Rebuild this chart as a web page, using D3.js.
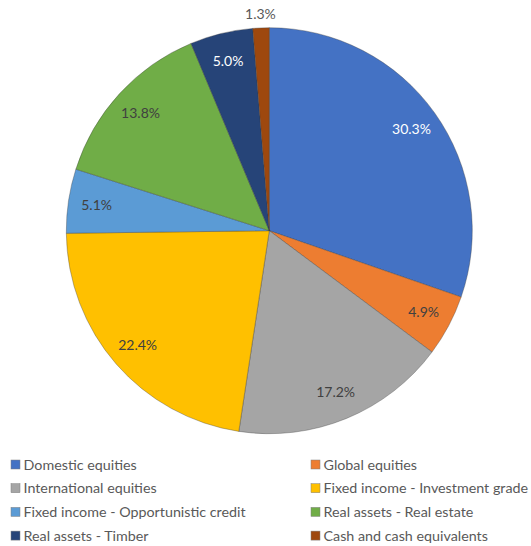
<!DOCTYPE html>
<html>
<head>
<meta charset="utf-8">
<script src="https://cdn.jsdelivr.net/npm/d3@7"></script>
<style>
  html, body { margin: 0; padding: 0; background: #fff; }
  svg { display: block; font-family: Lato, "Open Sans", sans-serif; }
</style>
</head>
<body>
<svg id="chart" width="531" height="546"></svg>
<script>
const categories = [
  "Domestic equities",
  "Global equities",
  "International equities",
  "Fixed income - Investment grade",
  "Fixed income - Opportunistic credit",
  "Real assets - Real estate",
  "Real assets - Timber",
  "Cash and cash equivalents"
];
const values = [30.3, 4.9, 17.2, 22.4, 5.1, 13.8, 5.0, 1.3];
const colors = ["#4472C4", "#ED7D31", "#A5A5A5", "#FFC000", "#5B9BD5", "#70AD47", "#264478", "#9E480E"];
const labelColors = ["#ffffff", "#404040", "#404040", "#404040", "#404040", "#404040", "#ffffff", "#595959"];

const svg = d3.select("#chart");
const cx = 269.3, cy = 230.7, R = 203;

const pie = d3.pie().sort(null).value(d => d.value);
const data = categories.map((c, i) => ({ name: c, value: values[i], i }));
const arcs = pie(data);

const arc = d3.arc().innerRadius(0).outerRadius(R);
const labelArc = d3.arc().innerRadius(R * 0.86).outerRadius(R * 0.86);
const outsideArc = d3.arc().innerRadius(R + 14).outerRadius(R + 14);

const g = svg.append("g").attr("transform", `translate(${cx},${cy})`);

g.selectAll("path.slice")
  .data(arcs)
  .enter().append("path")
  .attr("class", "slice")
  .attr("d", arc)
  .attr("fill", d => colors[d.data.i])
  .attr("stroke", "#3a3a3a")
  .attr("stroke-width", 0.5)
  .attr("stroke-opacity", 0.7);

g.selectAll("text.lbl")
  .data(arcs)
  .enter().append("text")
  .attr("class", "lbl")
  .attr("transform", d => {
    const p = (d.data.value < 2 ? outsideArc : labelArc).centroid(d);
    return `translate(${p[0]},${p[1]})`;
  })
  .attr("text-anchor", "middle")
  .attr("dy", "0.35em")
  .attr("font-size", 14)
  .attr("fill", d => labelColors[d.data.i])
  .text(d => d.data.value.toFixed(1) + "%");

// Legend: two columns, four rows
const legend = svg.append("g");
const colX = [11, 311];
const rowY0 = 464.5, rowStep = 23.7;
const items = legend.selectAll("g.item")
  .data(data)
  .enter().append("g")
  .attr("class", "item")
  .attr("transform", d => `translate(${colX[d.i % 2]},${rowY0 + Math.floor(d.i / 2) * rowStep})`);

items.append("rect")
  .attr("x", 0).attr("y", -4.5)
  .attr("width", 9).attr("height", 9)
  .attr("fill", d => colors[d.i])
  .attr("stroke", "#7f7f7f")
  .attr("stroke-width", 0.5);

items.append("text")
  .attr("x", 12.5)
  .attr("dy", "0.35em")
  .attr("font-size", 14.3)
  .attr("fill", "#595959")
  .text(d => d.name);
</script>
</body>
</html>
